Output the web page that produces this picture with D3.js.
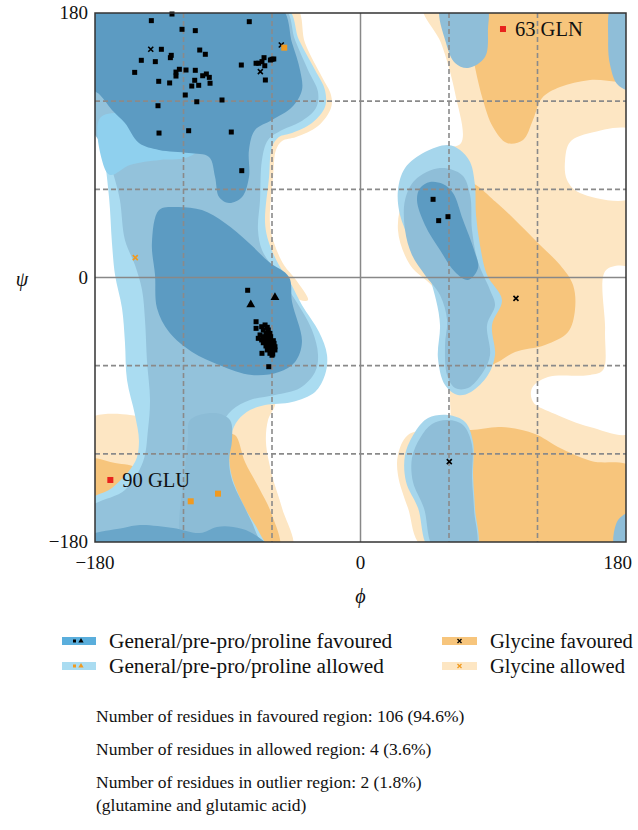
<!DOCTYPE html>
<html>
<head>
<meta charset="utf-8">
<script src="https://cdn.jsdelivr.net/npm/d3@7"></script>
<style>
  body { margin: 0; background: #fff; }
  text { font-family: "Liberation Serif", "DejaVu Serif", serif; fill: #111; }
</style>
</head>
<body>
<div id="chart"></div>
<script>
// regions, [phi, psi] in degrees
let glyAllowedRight = [[43,185],[54.6,159.6],[64.1,125.6],[68.2,91.5],[53.9,86.8],[30.2,56.1],[25.4,32.3],[33.6,8.5],[50.5,-8.5],[53.9,-28.9],[59.3,-56.1],[60.7,-83.4],[59.3,-98.3],[32.2,-107.2],[25.4,-120.8],[25.4,-134.4],[32.2,-156.9],[43.7,-185],[185,-185],[185,185]]
let glyAllowedLeftStrip = [[-44.4,185],[-37.6,159.6],[-26.1,136.4],[-20,124.2],[-20,115.4],[-28.8,103.1],[-43.7,95.6],[-53.2,92.9],[-57.3,86.8],[-59.3,68.4],[-61.4,37.1],[-58.6,23.5],[-51.9,8.5],[-43.7,-1.7],[-35.6,-15.3],[-41,-15.3],[-74.9,18.7],[-108.8,120.8],[-108.8,185]]
let glyAllowedLeftLow = [[-78.3,-90.2],[-66.8,-83.4],[-58,-85.4],[-62.7,-97],[-64.1,-112],[-60,-134.4],[-53.2,-156.9],[-46.4,-185],[-91.9,-185],[-93.9,-137.8],[-93.9,-110.6],[-88.5,-95.6]]
let glyAllowedCorner = [[-185,-97],[-156.3,-93.6],[-148.1,-97],[-148.1,-131],[-185,-131]]
let emptyHoles = [
  [[185,99.7],[155.6,98.3],[142.1,92.2],[138.7,80],[140,66.4],[148.8,57.5],[185,54.8]],
  [[185,5.1],[166.5,5.1],[165.8,-35.7],[164.4,-63],[155.6,-66.4],[127.1,-67.7],[116.3,-75.2],[117,-84.7],[131.9,-92.9],[155.6,-101.7],[185,-105.1]]
]
let glyFavouredTop = [[74.2,185],[74.2,161.6],[77.6,143.3],[83,120.8],[89.8,102.4],[99.3,91.5],[110.2,93.6],[116.9,107.2],[123.1,122.2],[135.3,129.6],[155.6,134.4],[185,135.8],[185,185]]
let glyFavouredMid = [[73.6,64.3],[92.5,50.7],[108.2,35.7],[121.7,22.1],[135.3,8.5],[144.1,-5.1],[145.4,-22.1],[140.7,-37.1],[125.1,-45.9],[104.8,-50.7],[93.2,-57.5],[86.4,-59.5],[82.4,-35.7],[79.7,-8.5],[74.3,18.7],[68.8,45.9]]
let glyFavouredLow = [[60.7,-103.8],[74.9,-103.8],[95.3,-101.7],[118.3,-106.5],[133.9,-115.3],[156.3,-124.9],[185,-129.7],[185,-185],[60.7,-185]]
let glyFavouredLeftLow = [[-91.9,-107.2],[-85.1,-107.2],[-78.3,-125.6],[-68.8,-143.3],[-60,-161.6],[-55.3,-185],[-88.5,-185],[-91.9,-137.8]]
let glyFavouredCorner = [[-185,-124.2],[-166.4,-126.3],[-150.8,-131],[-150.8,-165],[-185,-165]]

let genAllowedLeft = [[-185,185],[-51.2,185],[-41.7,161.6],[-30.8,141.2],[-24.1,127.6],[-24.1,116],[-32.9,105.1],[-46.4,98.3],[-55.3,95.6],[-60,88.8],[-62,68.4],[-64.7,37.1],[-62,23.5],[-55.3,8.5],[-47.8,-3.1],[-39.7,-18.7],[-28.1,-37.1],[-22.7,-52.7],[-24.1,-66.4],[-30.8,-77.9],[-46.4,-84.7],[-64.7,-86.8],[-74.9,-90.2],[-83,-97],[-87.8,-107.2],[-89.1,-120.8],[-87.1,-135.8],[-78.3,-156.9],[-68.8,-173.2],[-64.7,-185],[-185,-185],[-185,-152.8],[-168.5,-143.3],[-152.9,-125.6],[-150.2,-111.9],[-152.9,-93.6],[-158.3,-69.8],[-159.7,-43.9],[-161.7,-20.8],[-166.4,1.7],[-168.5,23.5],[-170.5,54.8],[-175.3,91.5],[-183,118.8]]
let genMidLeft = [[-185,185],[-53.2,185],[-44.4,161.6],[-35.6,141.2],[-28.8,126.2],[-30.2,115.4],[-41,105.8],[-53.2,100.4],[-62.7,93.6],[-66.8,80],[-68.1,52.7],[-69.5,32.3],[-66.8,18.7],[-58,5.1],[-46.4,-11.9],[-32.9,-35.7],[-28.8,-52.7],[-30.8,-64.3],[-41,-75.2],[-58,-80],[-74.9,-83.4],[-87.1,-90.2],[-93.9,-100.4],[-95.3,-117.4],[-91.9,-137.8],[-83,-158.2],[-74.9,-185],[-185,-185],[-185,-158.2],[-159.7,-144.6],[-147.5,-125.6],[-144.1,-103.8],[-142.7,-83.4],[-144.8,-56.1],[-146.1,-28.9],[-148.1,-8.5],[-152.9,8.5],[-159.7,25.5],[-163.1,52.7],[-166.4,66.4],[-173.2,86.8],[-185,107.2]]
let genSkyLeft = [[-176.6,108.5],[-156.3,112],[-129.2,107.2],[-112.2,98.3],[-110.2,86.8],[-119,81.3],[-135.9,80],[-156.3,76.6],[-169.8,69.8],[-175.3,80]]
let genProLow = [[-115.6,-97],[-98.6,-92.2],[-88.5,-97],[-87.1,-110.6],[-89.1,-124.2],[-87.1,-137.8],[-78.3,-156.9],[-71.5,-171.8],[-68.1,-185],[-119,-185],[-119,-131],[-116.9,-110.6]]
let genFavBeta = [[-185,185],[-55.3,185],[-46.4,159.6],[-41,141.2],[-39.7,127.6],[-46.4,116],[-60,107.2],[-71.5,100.4],[-75.6,86.8],[-75.6,68.4],[-80.3,54.8],[-89.1,50.7],[-95.9,54.8],[-98.6,68.4],[-102.7,82],[-116.3,84.7],[-136.6,86.8],[-150.2,91.5],[-159.7,105.1],[-168.5,114],[-176.6,124.2],[-185,131]]
let genFavAlpha = [[-141.4,23.5],[-136.6,45.9],[-125.8,48],[-107.5,45.9],[-91.9,37.1],[-75.6,23.5],[-62,10.5],[-48.5,0.3],[-46.4,-16.7],[-39.7,-43.9],[-44.4,-57.5],[-55.3,-64.3],[-73.6,-66.4],[-95.9,-59.5],[-114.2,-50.7],[-129.8,-37.1],[-138,-20.8],[-139.3,1.7]]
let genFavBottom = [[-185,-176.6],[-161,-170.5],[-149.5,-168.4],[-127.1,-170.5],[-108.8,-173.9],[-97.3,-169.8],[-86.4,-169.8],[-74.9,-173.2],[-61.4,-185],[-185,-185]]

let genAllowedRightTop = [[54.6,185],[58,159.6],[64.1,146],[72.9,142.6],[84.4,150.1],[86.4,168.4],[85.1,185]]
let genAllowedAlphaL = [[59.3,90.2],[67.5,86.8],[74.3,78.6],[77.6,63],[78.3,42.5],[81,22.1],[85.8,1.7],[95.9,-15.3],[89.2,-32.3],[91.2,-52.7],[86.4,-66.4],[74.9,-77.9],[66.1,-80],[57.3,-73.2],[52.5,-54.8],[53.9,-32.3],[51.2,-15.3],[43.7,8.5],[33.6,25.5],[26.8,42.5],[25.4,59.5],[30.2,74.5],[43.7,85.4]]
let genMidAlphaL = [[53.9,74.5],[68.8,69.8],[74.3,56.1],[75.6,32.3],[79.7,10.5],[87.8,-8.5],[91.2,-18.7],[85.8,-32.3],[87.8,-52.7],[83.1,-64.3],[72.9,-75.2],[64.1,-75.2],[58.7,-66.4],[57.3,-45.9],[58.7,-28.9],[53.9,-11.9],[43.7,1.7],[34.9,15.3],[30.2,32.3],[30.2,52.7],[37,66.4]]
let genFavAlphaL = [[47.1,65],[55.9,63.6],[62.7,57.5],[69.5,39.1],[77,18.7],[79.7,6.5],[72.9,-1.7],[64.1,3.7],[53.9,18.7],[43.7,35.7],[38.3,52.7],[40.4,60.9]]
let genAllowedRightLow = [[59.3,-93.6],[70.9,-98.3],[76.3,-112],[76.3,-134.4],[77.6,-156.9],[78.3,-185],[47.1,-185],[39,-156.9],[30.9,-139.2],[30.2,-120.8],[37,-105.1],[45.8,-95.6]]
let genMidRightLow = [[59.3,-97],[69.5,-100.4],[75.6,-114],[75.6,-136.5],[77,-158.2],[77.6,-185],[50.5,-185],[43,-156.9],[35.6,-139.2],[34.9,-122.9],[40.4,-109.2],[48.5,-99.7]]
let genWrapTop = [[170.5,185],[167.9,161.6],[169.2,144.6],[174.6,131],[185,127.6],[185,185]]
let genWrapBottom = [[172.6,-185],[174.6,-165],[185,-159.6],[185,-185]]

// residues
let favouredSquares = [[-127.8,179.3],[-141.8,174.8],[-75.4,174.1],[-121,168.9],[-112,168],[-135,155.3],[-109,154.8],[-105.2,151.9],[-128.3,151.2],[-128.9,149.6],[-148.6,147.8],[-139.1,146.9],[-153.1,139.6],[-122.8,141.7],[-125.1,139.8],[-118.3,141.2],[-112,141],[-104.5,138.5],[-107,137.3],[-102.5,136.2],[-125.1,137.1],[-136.8,133.5],[-129.4,132.4],[-112.4,134.2],[-102,132.2],[-114.4,130.3],[-109.7,130.8],[-118.8,124.2],[-111,119.6],[-93.9,120.8],[-137.3,116.9],[-80.8,144.6],[-70.8,145.8],[-69,145.8],[-66.8,146.9],[-65.4,149.6],[-64.9,144.1],[-61.1,148],[-60,148.5],[-58.8,148.7],[-64.5,134.4],[-136.6,98.3],[-116.5,99.9],[-87.6,99],[-80.5,72.7],
  [-76.5,-8.7],[-70.8,-30.1],[-70.8,-34.6],[-67,-33.5],[-64.7,-32.3],[-63.2,-33.9],[-65.9,-35.7],[-62.5,-35.7],[-64.1,-38],[-61.4,-38],[-68.1,-39.1],[-65.9,-40.3],[-63.2,-40.3],[-60.9,-40.3],[-69.3,-41.4],[-67,-42.5],[-64.1,-42.5],[-61.8,-42.5],[-59.1,-43],[-65.9,-44.4],[-63.2,-44.8],[-60.9,-45.3],[-58.6,-44.8],[-64.1,-46.6],[-61.8,-47.5],[-59.5,-47.5],[-58,-47.1],[-63.2,-49.3],[-60.2,-49.3],[-58,-49.3],[-61.4,-51.6],[-59.5,-52.1],[-66.8,-51.6],[-60,-52.9],[-62.2,-60.7],
  [49.2,53.2],[53,38.7],[59.3,41.4]]
let favouredTriangles = [[-74.4,-18.5],[-58,-13.5]]
let glycineFavoured = [[-142.2,155.3],[-67.9,140.1],[-53.7,158.2],[105.4,-14.2],[60.2,-125.3]]
let allowedSquares = [[-51.7,156.4],[-115.1,-152.3],[-96.6,-147.1]]
let glycineAllowed = [[-152.7,13.5]]
let outliers = [[96.6,169.1,'63 GLN'],[-169.6,-137.8,'90 GLU']]

let gridTicks = [-120,-60,60,120]
let axisTicks = [-180,0,180]

let legendLeft = ['General/pre-pro/proline favoured','General/pre-pro/proline allowed']
let legendRight = ['Glycine favoured','Glycine allowed']
let counts = ['Number of residues in favoured region: 106 (94.6%)',
  'Number of residues in allowed region: 4 (3.6%)',
  'Number of residues in outlier region: 2 (1.8%)',
  '(glutamine and glutamic acid)']

const W = 638, H = 830
const pLeft = 95, pRight = 626, pTop = 13, pBottom = 542

const c = {
  glyAllowed: '#fde6c3', glyFav: '#f7c57c',
  genAllowed: '#aadcf1', genMid: '#93c2db', genSky: '#8fd0ee', genPro: '#8cbcd6', genFav: '#5c9bc2',
  genBand: '#6aa6c9', rightOuter: '#a6d6ec', rightMid: '#8fbed8', rightFav: '#5c9bc2',
  orange: '#f09a20', red: '#e8221c'
}

let svg = d3.select('#chart').append('svg')
  .attr('width', W).attr('height', H)

let x = d3.scaleLinear().domain([-180, 180]).range([pLeft, pRight])
let y = d3.scaleLinear().domain([180, -180]).range([pTop, pBottom])

svg.append('clipPath').attr('id', 'plot-clip')
  .append('rect').attr('x', pLeft).attr('y', pTop)
  .attr('width', pRight - pLeft).attr('height', pBottom - pTop)

let shape = d3.line()
  .x(d => x(d[0])).y(d => y(d[1]))
  .curve(d3.curveCatmullRomClosed.alpha(0.5))

let plot = svg.append('g').attr('clip-path', 'url(#plot-clip)')

function region(pts, fill) {
  plot.append('path').attr('d', shape(pts)).attr('fill', fill)
}

region(glyAllowedRight, c.glyAllowed)
region(glyAllowedLeftStrip, c.glyAllowed)
region(glyAllowedLeftLow, c.glyAllowed)
region(glyAllowedCorner, c.glyAllowed)
emptyHoles.forEach(h => region(h, '#fff'))
region(glyFavouredTop, c.glyFav)
region(glyFavouredMid, c.glyFav)
region(glyFavouredLow, c.glyFav)
region(glyFavouredLeftLow, c.glyFav)
region(glyFavouredCorner, c.glyFav)

region(genAllowedLeft, c.genAllowed)
region(genMidLeft, c.genMid)
region(genSkyLeft, c.genSky)
region(genProLow, c.genPro)
region(genFavBeta, c.genFav)
region(genFavAlpha, c.genFav)
region(genFavBottom, c.genBand)

region(genAllowedRightTop, c.rightMid)
region(genAllowedAlphaL, c.rightOuter)
region(genMidAlphaL, c.rightMid)
region(genFavAlphaL, c.rightFav)
region(genAllowedRightLow, c.rightOuter)
region(genMidRightLow, c.rightMid)
region(genWrapTop, c.rightMid)
region(genWrapBottom, c.rightMid)

// grid
let grid = svg.append('g')
grid.selectAll('.gx').data(gridTicks).enter().append('line')
  .attr('x1', d => x(d)).attr('x2', d => x(d)).attr('y1', pTop).attr('y2', pBottom)
  .attr('stroke', '#8a8a8a').attr('stroke-width', 1.6).attr('stroke-dasharray', '5,3')
grid.selectAll('.gy').data(gridTicks).enter().append('line')
  .attr('y1', d => y(d)).attr('y2', d => y(d)).attr('x1', pLeft).attr('x2', pRight)
  .attr('stroke', '#8a8a8a').attr('stroke-width', 1.6).attr('stroke-dasharray', '5,3')
grid.append('line').attr('x1', x(0)).attr('x2', x(0)).attr('y1', pTop).attr('y2', pBottom)
  .attr('stroke', '#888').attr('stroke-width', 1.5)
grid.append('line').attr('y1', y(0)).attr('y2', y(0)).attr('x1', pLeft).attr('x2', pRight)
  .attr('stroke', '#888').attr('stroke-width', 1.5)

// markers
let pts = svg.append('g')
let sq = 5
pts.selectAll('.fs').data(favouredSquares).enter().append('rect')
  .attr('x', d => x(d[0]) - sq / 2).attr('y', d => y(d[1]) - sq / 2)
  .attr('width', sq).attr('height', sq).attr('fill', '#000')
pts.selectAll('.ft').data(favouredTriangles).enter().append('path')
  .attr('d', d3.symbol(d3.symbolTriangle, 34))
  .attr('transform', d => `translate(${x(d[0])},${y(d[1])})`).attr('fill', '#000')
function cross(data, color) {
  pts.selectAll(null).data(data).enter().append('path')
    .attr('d', 'M-2.5,-2.5L2.5,2.5M-2.5,2.5L2.5,-2.5')
    .attr('transform', d => `translate(${x(d[0])},${y(d[1])})`)
    .attr('stroke', color).attr('stroke-width', 1.6).attr('fill', 'none')
}
cross(glycineFavoured, '#000')
cross(glycineAllowed, c.orange)
pts.selectAll('.as').data(allowedSquares).enter().append('rect')
  .attr('x', d => x(d[0]) - 3).attr('y', d => y(d[1]) - 3)
  .attr('width', 6).attr('height', 6).attr('fill', c.orange)
pts.selectAll('.os').data(outliers).enter().append('rect')
  .attr('x', d => x(d[0]) - 3).attr('y', d => y(d[1]) - 3)
  .attr('width', 6).attr('height', 6).attr('fill', c.red)
pts.selectAll('.ol').data(outliers).enter().append('text')
  .attr('x', d => x(d[0]) + 12).attr('y', d => y(d[1]) + 7)
  .attr('font-size', 20.5).text(d => d[2])

// frame
svg.append('rect').attr('x', pLeft).attr('y', pTop)
  .attr('width', pRight - pLeft).attr('height', pBottom - pTop)
  .attr('fill', 'none').attr('stroke', '#333').attr('stroke-width', 1.5)

// axes labels
let fmt = v => v < 0 ? '\u2212' + Math.abs(v) : String(v)
svg.selectAll('.yt').data(axisTicks).enter().append('text')
  .attr('x', pLeft - 7).attr('y', d => y(d) + 6).attr('text-anchor', 'end')
  .attr('font-size', 19).text(fmt)
svg.selectAll('.xt').data(axisTicks).enter().append('text')
  .attr('x', d => d === 180 ? 632 : x(d)).attr('y', pBottom + 27)
  .attr('text-anchor', d => d === 180 ? 'end' : 'middle')
  .attr('font-size', 19).text(fmt)
svg.append('text').attr('x', 22).attr('y', y(0) + 8).attr('text-anchor', 'middle')
  .attr('font-size', 20).attr('font-style', 'italic').text('\u03c8')
svg.append('text').attr('x', x(0)).attr('y', 603).attr('text-anchor', 'middle')
  .attr('font-size', 20).attr('font-style', 'italic').text('\u03d5')

// legend
let lg = svg.append('g')
let rowY = [641, 666]
lg.selectAll('.lb').data(legendLeft).enter().append('rect')
  .attr('x', 62).attr('y', (d, i) => rowY[i] - 4).attr('width', 34).attr('height', 8)
  .attr('fill', (d, i) => i ? c.genAllowed : '#5aaedc')
lg.selectAll('.lt').data(legendLeft).enter().append('text')
  .attr('x', 109).attr('y', (d, i) => rowY[i] + 7).attr('font-size', 21.3).text(d => d)
lg.selectAll('.rb').data(legendRight).enter().append('rect')
  .attr('x', 442).attr('y', (d, i) => rowY[i] - 4).attr('width', 35).attr('height', 8)
  .attr('fill', (d, i) => i ? c.glyAllowed : c.glyFav)
lg.selectAll('.rt').data(legendRight).enter().append('text')
  .attr('x', 490).attr('y', (d, i) => rowY[i] + 7).attr('font-size', 20.5).text(d => d)
// legend marker glyphs
lg.append('rect').attr('x', 73).attr('y', rowY[0] - 1.5).attr('width', 3).attr('height', 3).attr('fill', '#000')
lg.append('path').attr('d', d3.symbol(d3.symbolTriangle, 12)).attr('transform', `translate(81,${rowY[0]})`).attr('fill', '#000')
lg.append('rect').attr('x', 73).attr('y', rowY[1] - 1.5).attr('width', 3).attr('height', 3).attr('fill', c.orange)
lg.append('path').attr('d', d3.symbol(d3.symbolTriangle, 12)).attr('transform', `translate(81,${rowY[1]})`).attr('fill', c.orange)
lg.selectAll('.rx').data([0, 1]).enter().append('path')
  .attr('d', 'M-2,-2L2,2M-2,2L2,-2')
  .attr('transform', d => `translate(459.5,${rowY[d]})`)
  .attr('stroke', d => d ? c.orange : '#000').attr('stroke-width', 1.3)

// counts
svg.selectAll('.ct').data(counts).enter().append('text')
  .attr('x', 96).attr('y', (d, i) => [722, 755, 788, 811][i])
  .attr('font-size', 17.5).text(d => d)
</script>
</body>
</html>
